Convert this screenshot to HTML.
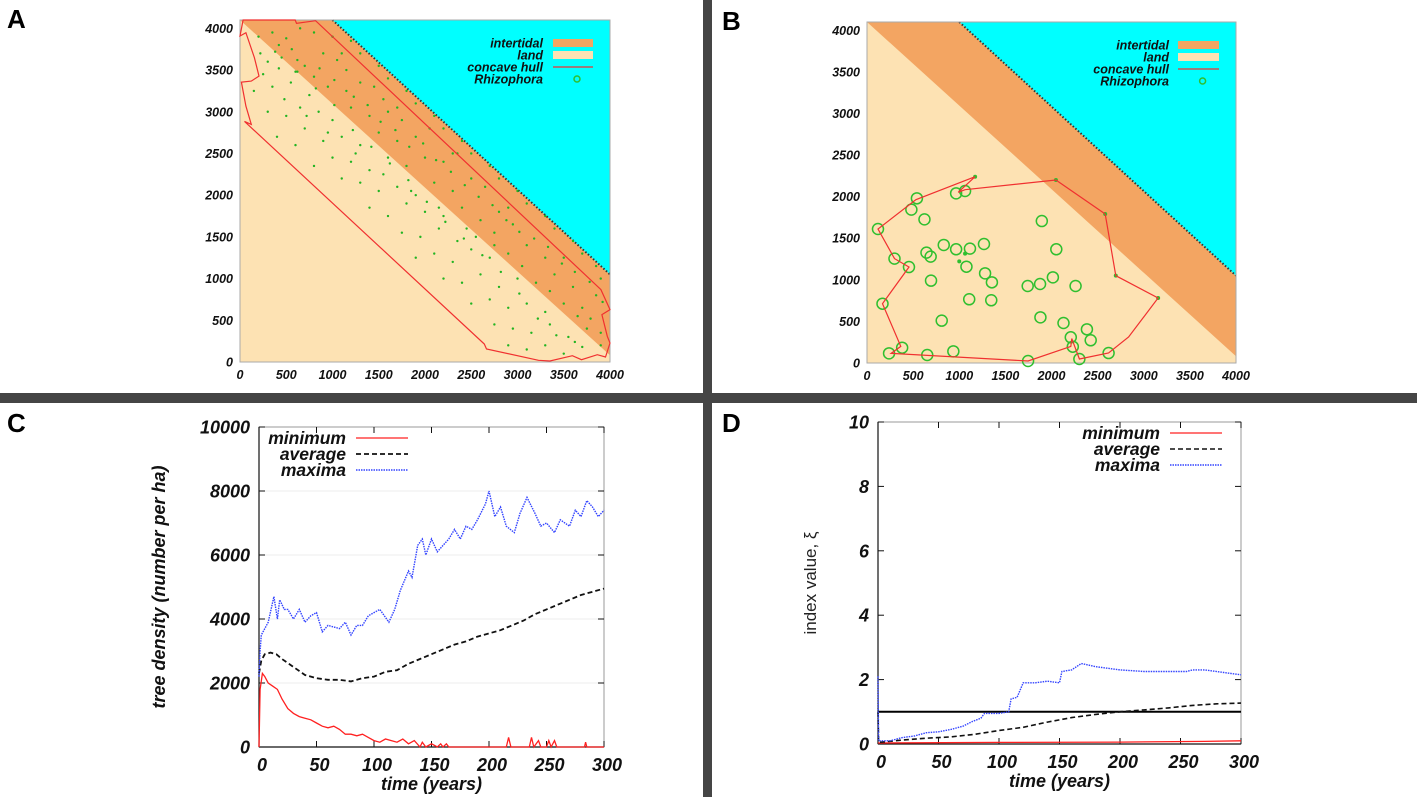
<!DOCTYPE html>
<html><head><meta charset="utf-8"><style>
html,body{margin:0;padding:0;background:#fff}
svg{display:block}
text{font-family:"Liberation Sans",sans-serif}
.tk{font-weight:bold;font-style:italic;fill:#111}
</style></head><body>
<svg id="fig" width="1417" height="797" viewBox="0 0 1417 797" xmlns="http://www.w3.org/2000/svg">
<rect x="0" y="0" width="1417" height="797" fill="#fff"/>
<rect x="703" y="0" width="9" height="797" fill="#454545"/>
<rect x="0" y="393" width="1417" height="10" fill="#454545"/>
<text x="7" y="28" font-size="26" font-weight="bold">A</text>
<text x="722" y="30" font-size="26" font-weight="bold">B</text>
<text x="7" y="432" font-size="26" font-weight="bold">C</text>
<text x="722" y="432" font-size="26" font-weight="bold">D</text>
<g id="pa"></g>
<g id="pb"></g>
<g id="pc"></g>
<g id="pd"></g>
</svg>
<script>
// ---------- data ----------
const mapTicks = [0,500,1000,1500,2000,2500,3000,3500,4000];
const hullA = [[34,4100],[597,4100],[611,4060],[817,4092],[3902,868],[4000,628],[3912,568],[3971,308],[4000,228],[3951,60],[3863,88],[3692,28],[3594,76],[3350,12],[3227,20],[2665,156],[2641,216],[49,2884],[122,2848],[64,3068],[15,3356],[122,3368],[205,3428],[156,3648],[64,3948],[0,3908]];
const treesA = [[200,3900],[350,3950],[500,3880],[650,4000],[420,3800],[560,3750],[300,3600],[450,3650],[700,3550],[900,3700],[1050,3620],[600,3480],[800,3420],[1150,3500],[150,3250],[350,3300],[550,3350],[750,3200],[950,3300],[1150,3250],[1300,3350],[1450,3300],[1550,3150],[650,3050],[300,3000],[500,2950],[850,3000],[1000,2900],[1200,3050],[1400,2950],[1600,3000],[1750,2900],[400,2700],[700,2800],[600,2600],[900,2650],[1100,2700],[1300,2600],[1500,2750],[1700,2650],[1900,2700],[2050,2800],[1000,2450],[800,2350],[1200,2400],[1400,2300],[1600,2450],[1800,2350],[2000,2450],[2200,2400],[2350,2500],[1100,2200],[1300,2150],[1500,2050],[1700,2100],[1900,2000],[2100,2150],[2300,2050],[2500,2200],[2650,2100],[1400,1850],[1600,1750],[1800,1900],[2000,1800],[2200,1750],[2400,1850],[2600,1700],[2800,1800],[1750,1550],[1950,1500],[2150,1600],[2350,1450],[2550,1500],[2750,1550],[2950,1650],[1900,1250],[2100,1300],[2300,1200],[2500,1350],[2700,1250],[2900,1300],[3100,1400],[3300,1250],[2200,1000],[2400,950],[2600,1050],[2800,900],[3000,1000],[3200,950],[3400,1050],[3600,900],[2500,700],[2700,750],[2900,650],[3100,700],[3300,600],[3500,700],[3700,650],[3850,800],[2750,450],[2950,400],[3150,350],[3350,450],[3550,300],[3750,400],[3900,350],[2900,200],[3100,150],[3300,200],[3500,100],[3700,180],[1000,3900],[1300,3700],[1600,3400],[1900,3100],[2200,2800],[2500,2500],[2800,2200],[3100,1900],[3400,1600],[3700,1300],[3900,1000],[800,3950],[1200,3850],[1500,3550],[1800,3250],[2100,2950],[2400,2650],[2700,2350],[3000,2050],[3300,1750],[3600,1450],[3850,1150],[1100,3700],[1700,3050],[2300,2500],[2900,1850],[3500,1250],[250,3450],[480,3150],[720,2950],[950,2750],[1250,2500],[1550,2250],[1850,2050],[2150,1850],[2450,1600],[2750,1400],[3050,1150],[3350,850],[3650,550],[3900,200],[380,3720],[620,3620],[860,3520],[1020,3380],[1230,3180],[1380,3080],[1520,2880],[1680,2780],[1830,2580],[1980,2620],[2120,2420],[2280,2280],[2430,2120],[2580,1980],[2730,1880],[2880,1700],[3020,1560],[3180,1480],[3330,1380],[3480,1180],[3620,1080],[3780,960],[3920,720],[3790,520],[3620,240],[3420,320],[3220,520],[3020,820],[2820,1080],[2620,1280],[2420,1480],[2220,1680],[2020,1920],[1820,2180],[1620,2380],[1420,2580],[1220,2780],[1020,3080],[820,3280],[620,3480],[420,3520],[220,3700]];
const hullB = [[1172,2240],[530,1964],[119,1611],[298,1255],[455,1154],[168,713],[366,200],[261,116],[1746,24],[2209,200],[2220,293],[2302,48],[2619,120],[2836,313],[3156,782],[2697,1050],[2582,1792],[2048,2200],[1063,2084],[989,2052]];
const treesB = [[119,1611],[541,1980],[481,1844],[623,1727],[966,2040],[1063,2068],[1895,1707],[2052,1367],[832,1419],[966,1367],[1116,1375],[1268,1431],[645,1327],[690,1279],[298,1255],[455,1154],[1078,1158],[1280,1078],[1354,970],[694,990],[1742,926],[1876,950],[2015,1030],[2261,926],[168,713],[1108,766],[1347,754],[810,509],[1880,549],[2130,481],[2209,309],[2384,405],[2425,273],[2231,196],[381,184],[239,116],[653,96],[936,140],[1746,24],[2302,48],[2619,120]];
const smallTreesB = [[1000,1222],[1063,1315],[1172,2240],[2048,2200],[2582,1792],[2697,1050],[3156,782]];

const timeTicks = [0,50,100,150,200,250,300];
const densityTicks = [0,2000,4000,6000,8000,10000];
const cMaxT = [0,1,2,5,8,13,16,18,22,25,30,35,40,45,50,55,60,65,70,75,80,85,90,95,100,105,113,118,123,130,133,138,142,145,150,155,160,165,170,175,180,185,190,197,200,205,210,215,222,227,233,240,245,250,257,262,270,275,280,285,290,295,300];
const cMaxV = [2200,3000,3500,3700,3900,4700,4000,4600,4300,4300,4000,4300,3900,4100,4200,3600,3800,3750,3700,3900,3500,3800,3800,4100,4200,4300,3900,4300,4900,5500,5300,6300,6500,6000,6500,6100,6300,6500,6800,6500,6900,6800,7100,7600,8000,7200,7500,6900,6700,7300,7800,7300,6900,7000,6700,7100,6900,7400,7200,7700,7500,7200,7400];
const cAvgT = [0,2,5,10,15,20,30,40,50,60,70,80,90,100,110,120,130,140,150,160,170,180,190,200,210,220,230,240,250,260,270,280,290,300];
const cAvgV = [2300,2700,2900,2950,2900,2750,2500,2250,2150,2100,2100,2050,2150,2200,2350,2400,2600,2750,2900,3050,3200,3300,3450,3550,3650,3800,3950,4150,4300,4450,4600,4750,4850,4950];
const cMinT = [0,1,3,5,8,12,16,20,25,30,35,40,45,50,55,60,65,70,75,80,85,90,95,100,105,110,115,120,125,130,135,140,142,145,150,155,158,160,163,165,215,217,219,235,237,239,243,245,250,252,254,257,259,283,284,285,300];
const cMinV = [0,1800,2300,2200,2000,1900,1800,1500,1200,1050,950,900,850,750,650,600,650,550,400,400,350,400,300,200,150,250,200,150,250,100,200,0,150,0,100,0,100,0,100,0,0,300,0,0,300,0,200,0,0,200,0,200,0,0,150,0,0];

const indexTicks = [0,2,4,6,8,10];
const dMaxT = [0,0.5,10,20,30,40,50,60,70,78,85,88,100,108,110,115,120,130,140,150,152,160,168,180,200,220,240,255,260,270,290,300];
const dMaxV = [2.1,0.1,0.1,0.2,0.25,0.35,0.38,0.45,0.55,0.7,0.8,0.95,0.95,1.0,1.4,1.45,1.9,1.9,1.95,1.9,2.25,2.3,2.5,2.4,2.3,2.25,2.25,2.25,2.3,2.3,2.2,2.15];
const dAvgT = [0,0.5,20,40,60,80,100,120,140,160,180,200,220,240,260,280,300];
const dAvgV = [1.0,0.05,0.12,0.18,0.22,0.3,0.42,0.52,0.68,0.82,0.92,1.0,1.06,1.12,1.2,1.25,1.27];
const dMinT = [0,100,200,270,300];
const dMinV = [0.03,0.05,0.06,0.08,0.1];
const dRefValue = 1.0;

// ---------- helpers ----------
const NS="http://www.w3.org/2000/svg";
function mk(parent,tag,attrs,txt){const e=document.createElementNS(NS,tag);for(const k in attrs)e.setAttribute(k,attrs[k]);if(txt!==undefined)e.textContent=txt;parent.appendChild(e);return e;}
function lin(d0,d1,r0,r1){return v=>r0+(v-d0)/(d1-d0)*(r1-r0);}

// ---------- map panels ----------
function mapPanel(gid,L,R,T,B,hull,trees,big,small,leg){
  const g=document.getElementById(gid);
  const sx=lin(0,4000,L,R), sy=lin(0,4100,B,T);
  const P=pts=>pts.map(p=>sx(p[0]).toFixed(1)+','+sy(p[1]).toFixed(1)).join(' ');
  let e=mk(g,'rect',{x:L,y:T,width:R-L,height:B-T,fill:'#fde2b3'});
  
  e=mk(g,'polygon',{points:P([[0,4100],[1000,4100],[4000,1050],[4000,80]]),fill:'#f3a562'});
  
  e=mk(g,'polygon',{points:P([[1000,4100],[4000,4100],[4000,1050]]),fill:'#00ffff'});
  
  e=mk(g,'line',{x1:sx(1000),y1:sy(4100),x2:sx(4000),y2:sy(1050),stroke:'#333','stroke-width':2,'stroke-dasharray':'1.5 2'});
  
  e=mk(g,'rect',{x:L,y:T,width:R-L,height:B-T,fill:'none',stroke:'#aaa','stroke-width':1});
  
  const tg=mk(g,'g',{});
  trees.forEach(p=>{
    const c = big ? mk(tg,'circle',{cx:sx(p[0]),cy:sy(p[1]),r:5.5,fill:'none',stroke:'#2fbf2f','stroke-width':1.5})
                  : mk(tg,'circle',{cx:sx(p[0]),cy:sy(p[1]),r:1.2,fill:'#22b422'});
    
    
  });
  (small||[]).forEach(p=>{
    const c=mk(tg,'circle',{cx:sx(p[0]),cy:sy(p[1]),r:2,fill:'#2fbf2f'});
    
    
  });
  e=mk(g,'polygon',{points:P(hull),fill:'none',stroke:'#f03030','stroke-width':1.2});
  
  mapTicks.forEach(t=>{
    let a=mk(g,'text',{x:L-7,y:sy(t)+4.5,'font-size':12.5,'text-anchor':'end',class:'tk'},String(t));
    
    a=mk(g,'text',{x:sx(t),y:B+17,'font-size':12.5,'text-anchor':'middle',class:'tk'},String(t));
    
  });
  const lg=mk(g,'g',{});
  
  const names=['intertidal','land','concave hull','Rhizophora'];
  names.forEach((n,i)=>{
    const y=leg.y+i*12;
    const t=mk(lg,'text',{x:leg.tx,y:y+4.5,'font-size':12.5,'text-anchor':'end',class:'tk'},n);
    
    let s;
    if(i===0) s=mk(lg,'rect',{x:leg.sx,y:y-4,width:leg.sw,height:8,fill:'#f3a562'});
    else if(i===1) s=mk(lg,'rect',{x:leg.sx,y:y-4,width:leg.sw,height:8,fill:'#fde2b3'});
    else if(i===2) s=mk(lg,'line',{x1:leg.sx,y1:y,x2:leg.sx+leg.sw,y2:y,stroke:'#f03030','stroke-width':1.2});
    else s=mk(lg,'circle',{cx:leg.sx+leg.sw*0.6,cy:y,r:3,fill:'none',stroke:'#2fbf2f','stroke-width':1.5});
    
  });
}
mapPanel('pa',240,610,20,362,hullA,treesA,false,null,{y:43,tx:543,sx:553,sw:40});
mapPanel('pb',867,1236,22,363,hullB,treesB,true,smallTreesB,{y:45,tx:1169,sx:1178,sw:41});

// ---------- line panels ----------
function linePanel(gid,L,R,T,B,ymax,yt,series,ref,leg,ytitle,ytitleX,ytBold,grid){
  const g=document.getElementById(gid);
  const sx=lin(0,300,L,R), sy=lin(0,ymax,B,T);
  let e=mk(g,'rect',{x:L,y:T,width:R-L,height:B-T,fill:'#fff',stroke:'#999','stroke-width':1});
  
  mk(g,'line',{x1:L,y1:T,x2:L,y2:B,stroke:'#111','stroke-width':1.2});
  mk(g,'line',{x1:L,y1:B,x2:R,y2:B,stroke:'#111','stroke-width':1.2});
  yt.forEach(t=>{
    if(grid&&t>0&&t<ymax){const gl=mk(g,'line',{x1:L,y1:sy(t),x2:R,y2:sy(t),stroke:'#eee','stroke-width':1});
      }
    mk(g,'line',{x1:L,y1:sy(t),x2:L+6,y2:sy(t),stroke:'#111'});
    mk(g,'line',{x1:R,y1:sy(t),x2:R-6,y2:sy(t),stroke:'#111'});
    const a=mk(g,'text',{x:L-9,y:sy(t)+6.5,'font-size':18,'text-anchor':'end',class:'tk'},String(t));
    
  });
  timeTicks.forEach(t=>{
    mk(g,'line',{x1:sx(t),y1:B,x2:sx(t),y2:B-6,stroke:'#111'});
    mk(g,'line',{x1:sx(t),y1:T,x2:sx(t),y2:T+6,stroke:'#111'});
    const a=mk(g,'text',{x:sx(t)+3,y:B+24,'font-size':18,'text-anchor':'middle',class:'tk'},String(t));
    
  });
  if(ref!==null){
    e=mk(g,'line',{x1:L,y1:sy(ref),x2:R,y2:sy(ref),stroke:'#000','stroke-width':2});
    
  }
  series.forEach(s=>{
    const d=s.t.map((t,i)=>(i?'L':'M')+sx(t).toFixed(1)+','+sy(s.v[i]).toFixed(1)).join('');
    const p=mk(g,'path',{d:d,fill:'none',stroke:s.c,'stroke-width':s.w,'stroke-dasharray':s.dash});
    
    
  });
  const lg=mk(g,'g',{});
  
  series.forEach((s,i)=>{
    const y=leg.y+i*16;
    const t=mk(lg,'text',{x:leg.tx,y:y+6,'font-size':17.5,'text-anchor':'end',class:'tk'},s.label);
    
    const l=mk(lg,'line',{x1:leg.lx,y1:y,x2:leg.lx+52,y2:y,stroke:s.c,'stroke-width':s.w,'stroke-dasharray':s.dash});
    
  });
  const cx=(L+R)/2;
  e=mk(g,'text',{x:cx,y:B+43,'font-size':18,'text-anchor':'middle',class:'tk'},'time (years)');
  
  const my=(T+B)/2;
  e=mk(g,'text',{x:ytitleX,y:my,'font-size':ytBold?18:17,'text-anchor':'middle',transform:'rotate(-90 '+ytitleX+' '+my+')',class:ytBold?'tk':''},ytitle);
  if(!ytBold)e.setAttribute('fill','#222');
  
}
linePanel('pc',259,604,427,747,10000,densityTicks,[
  {t:cMinT,v:cMinV,c:'#ff2020',w:1.3,dash:'none',label:'minimum',name:'minimum-line'},
  {t:cAvgT,v:cAvgV,c:'#111',w:1.8,dash:'5 3',label:'average',name:'average-line'},
  {t:cMaxT,v:cMaxV,c:'#3344ff',w:1.4,dash:'1.5 1',label:'maxima',name:'maxima-line'}
],null,{y:438,tx:346,lx:356},'tree density (number per ha)',165,true,true);
linePanel('pd',878,1241,422,744,10,indexTicks,[
  {t:dMinT,v:dMinV,c:'#ff2020',w:1.3,dash:'none',label:'minimum',name:'minimum-line'},
  {t:dAvgT,v:dAvgV,c:'#111',w:1.6,dash:'5 3',label:'average',name:'average-line'},
  {t:dMaxT,v:dMaxV,c:'#3344ff',w:1.4,dash:'1.5 1',label:'maxima',name:'maxima-line'}
],dRefValue,{y:433,tx:1160,lx:1170},'index value, \u03be',816,false,false);
</script>
</body></html>
